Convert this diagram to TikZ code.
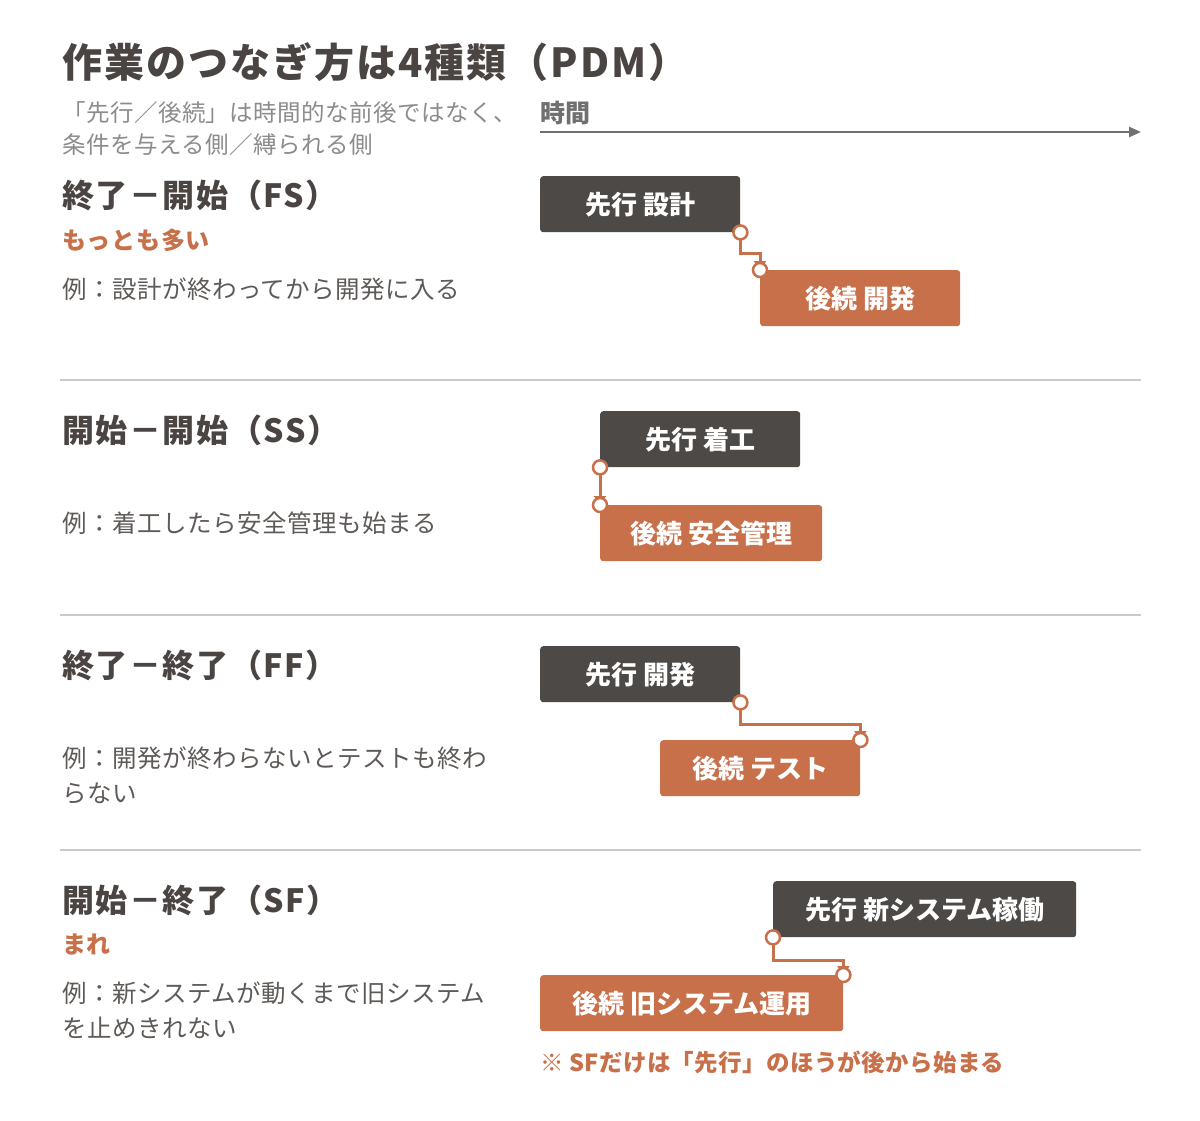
\documentclass[tikz,border=0pt]{standalone}
\usepackage{fontspec}
\setmainfont{Noto Sans CJK JP}
\usetikzlibrary{arrows.meta}
\definecolor{ink}{HTML}{4A4542}
\definecolor{boxdark}{HTML}{4D4946}
\definecolor{accent}{HTML}{C8704A}
\definecolor{subgray}{HTML}{8C8C8C}
\definecolor{bodygray}{HTML}{5E5A58}
\definecolor{rulegray}{HTML}{CACACA}
\definecolor{axisgray}{HTML}{707070}
\begin{document}
\begin{tikzpicture}[x=1pt,y=1pt,
  txt/.style={anchor=west, inner sep=0pt, align=left},
  titletxt/.style={txt, text=ink, font=\fontsize{40}{48}\selectfont\bfseries\addfontfeature{LetterSpace=5}},
  subtxt/.style={txt, text=subgray, font=\fontsize{23.5}{32}\selectfont\addfontfeature{LetterSpace=2}},
  headtxt/.style={txt, text=ink, font=\fontsize{32}{38}\selectfont\bfseries\addfontfeature{LetterSpace=5}},
  tagtxt/.style={txt, text=accent, font=\fontsize{24}{30}\selectfont\bfseries\addfontfeature{LetterSpace=3}},
  bodytxt/.style={txt, text=bodygray, font=\fontsize{24.5}{35}\selectfont\addfontfeature{LetterSpace=2}},
  axistxt/.style={txt, text=axisgray, font=\fontsize{25}{30}\selectfont\bfseries},
  notetxt/.style={txt, text=accent, font=\fontsize{23.5}{30}\selectfont\bfseries\addfontfeature{LetterSpace=1.5}},
  taskbox/.style={anchor=north west, minimum height=56pt, inner sep=0pt,
    rounded corners=3pt, text=white, font=\fontsize{26}{30}\selectfont\bfseries},
  predbox/.style={taskbox, fill=boxdark},
  succbox/.style={taskbox, fill=accent},
  link/.style={draw=accent, line width=3pt, -{Triangle[length=9pt,width=12pt]}},
  dotc/.style={circle, draw=accent, line width=2.5pt, fill=white, minimum size=14pt, inner sep=0pt},
  divider/.style={draw=rulegray, line width=1.5pt},
  axisline/.style={draw=axisgray, line width=2.5pt, -{Triangle[length=12pt,width=10pt]}}
]
\useasboundingbox (0,0) rectangle (1200,-1120);
\fill[white] (0,0) rectangle (1200,-1120);

% header
\node[titletxt] (title) at (62,-62) {作業のつなぎ方は4種類（PDM）};
\node[subtxt] (sub) at (62,-129) {「先行／後続」は時間的な前後ではなく、\\条件を与える側／縛られる側};

% time axis
\node[axistxt] (timelbl) at (540,-113) {時間};
\coordinate (ax0) at (540,-132);
\coordinate (ax1) at (1141,-132);
\draw[axisline] (ax0) -- (ax1);

% dividers
\coordinate (d1a) at (60,-380); \coordinate (d1b) at (1141,-380);
\coordinate (d2a) at (60,-615); \coordinate (d2b) at (1141,-615);
\coordinate (d3a) at (60,-850); \coordinate (d3b) at (1141,-850);
\draw[divider] (d1a) -- (d1b);
\draw[divider] (d2a) -- (d2b);
\draw[divider] (d3a) -- (d3b);

% FS
\node[headtxt] (fsh) at (62,-195) {終了－開始（FS）};
\node[tagtxt] (fst) at (62,-240) {もっとも多い};
\node[bodytxt] (fse) at (62,-289) {例：設計が終わってから開発に入る};
\node[predbox, minimum width=200pt] (fsa) at (540,-176) {先行 設計};
\node[succbox, minimum width=200pt] (fsb) at (760,-270) {後続 開発};
\draw[link] (fsa.south east) -- ++(0,-21) -| (fsb.north west);
\node[dotc] (fsc1) at (fsa.south east) {};
\node[dotc] (fsc2) at (fsb.north west) {};

% SS
\node[headtxt] (ssh) at (62,-430) {開始－開始（SS）};
\node[bodytxt] (sse) at (62,-523) {例：着工したら安全管理も始まる};
\node[predbox, minimum width=200pt] (ssa) at (600,-411) {先行 着工};
\node[succbox, minimum width=222pt] (ssb) at (600,-505) {後続 安全管理};
\draw[link] (ssa.south west) -- (ssb.north west);
\node[dotc] (ssc1) at (ssa.south west) {};
\node[dotc] (ssc2) at (ssb.north west) {};

% FF
\node[headtxt] (ffh) at (62,-665) {終了－終了（FF）};
\node[bodytxt] (ffe) at (62,-775.5) {例：開発が終わらないとテストも終わ\\らない};
\node[predbox, minimum width=200pt] (ffa) at (540,-646) {先行 開発};
\node[succbox, minimum width=200pt] (ffb) at (660,-740) {後続 テスト};
\draw[link] (ffa.south east) -- ++(0,-22) -| (ffb.north east);
\node[dotc] (ffc1) at (ffa.south east) {};
\node[dotc] (ffc2) at (ffb.north east) {};

% SF
\node[headtxt] (sfh) at (62,-900) {開始－終了（SF）};
\node[tagtxt] (sft) at (62,-944) {まれ};
\node[bodytxt] (sfe) at (62,-1010.5) {例：新システムが動くまで旧システム\\を止めきれない};
\node[predbox, minimum width=303pt] (sfa) at (773,-881) {先行 新システム稼働};
\node[succbox, minimum width=303pt] (sfb) at (540,-975) {後続 旧システム運用};
\draw[link] (sfa.south west) -- ++(0,-23) -| (sfb.north east);
\node[dotc] (sfc1) at (sfa.south west) {};
\node[dotc] (sfc2) at (sfb.north east) {};
\node[notetxt] (note) at (540,-1062) {※ SFだけは「先行」のほうが後から始まる};
\end{tikzpicture}
\end{document}
